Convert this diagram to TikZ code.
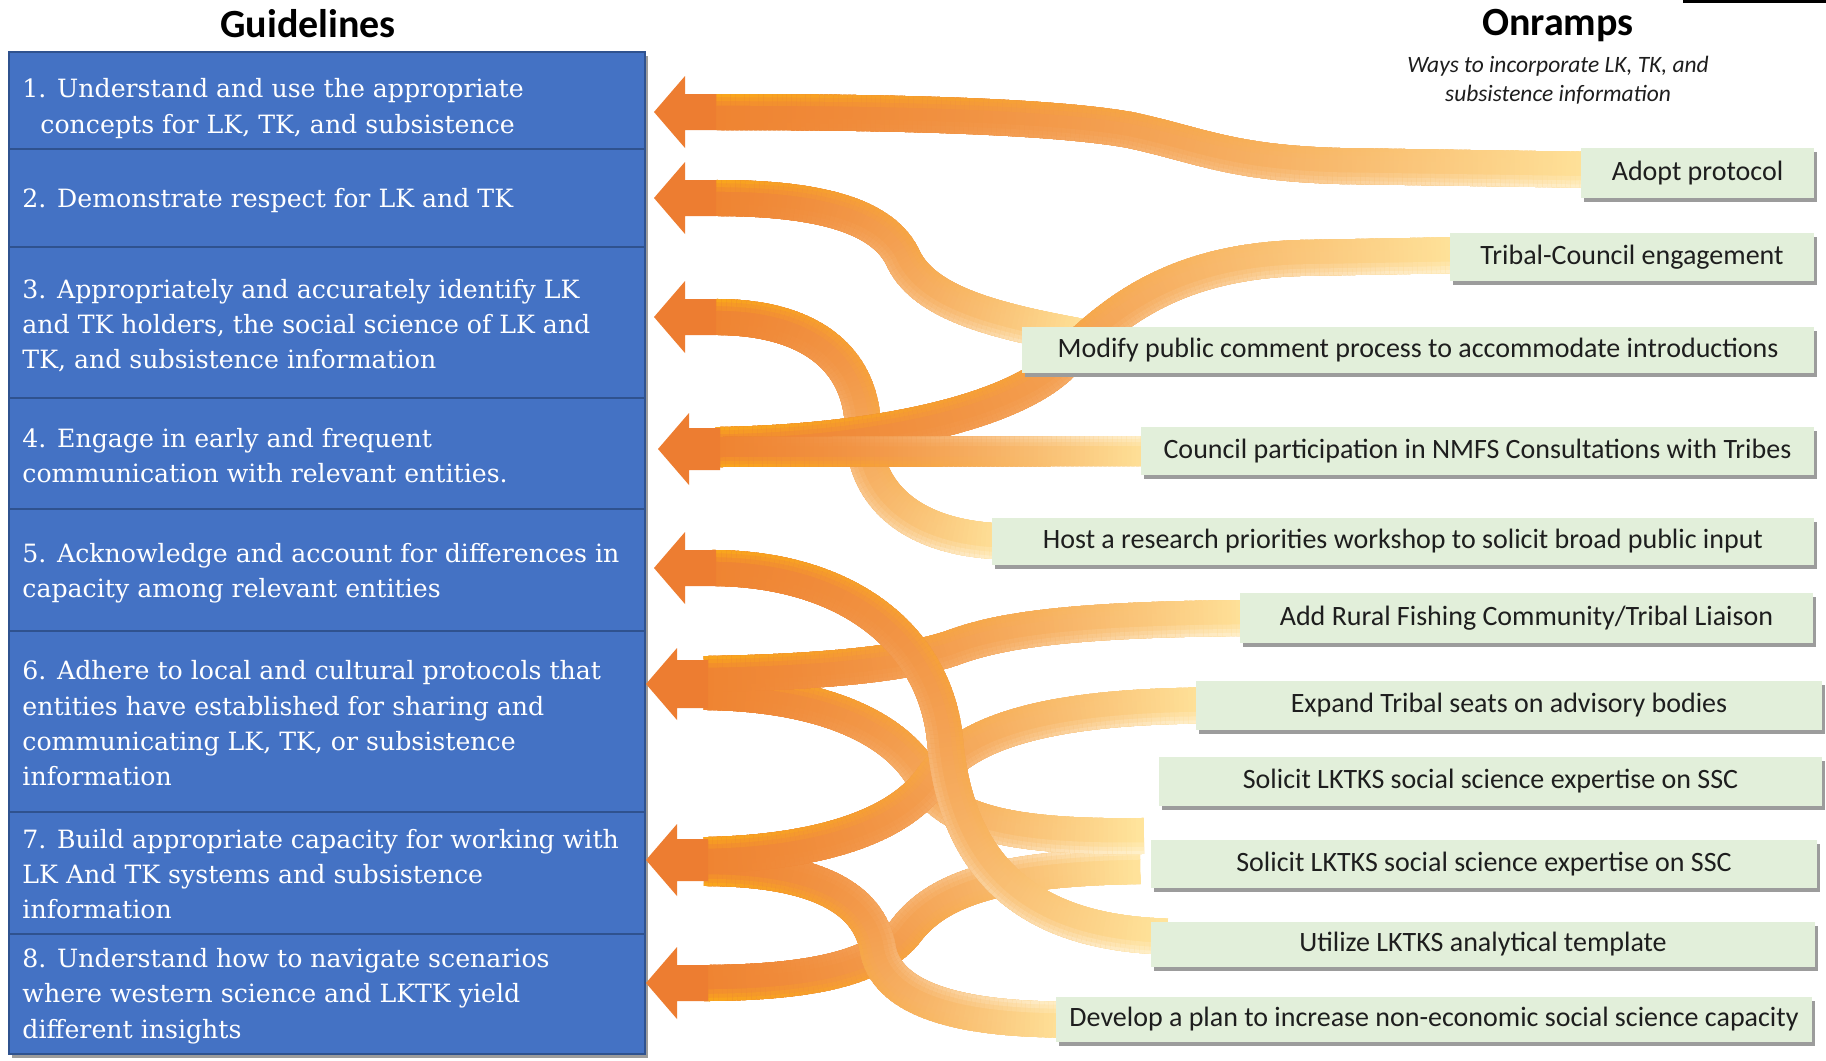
\documentclass[tikz,border=0pt]{standalone}
\usepackage{fontspec}
\setmainfont{DejaVu Serif}
\newfontfamily\calib{Carlito}
\usetikzlibrary{decorations.markings,calc}
\definecolor{aorange}{HTML}{ED7D31}
\definecolor{rorange}{HTML}{EF8432}
\definecolor{rlight}{HTML}{FFE49C}
\definecolor{rgold}{HTML}{FFB810}
\definecolor{gblue}{HTML}{4472C4}
\definecolor{gbord}{HTML}{2F528F}
\definecolor{ggreen}{HTML}{E2EFDA}
\definecolor{shadowgray}{HTML}{9C9C9C}
\definecolor{txtdark}{HTML}{1E1E1E}
% gradient ribbon: #1 half width (pt), #2 side of the gold edge (1 or -1), #3 path
\newcommand\ribbon[3]{%
  \path[decorate,decoration={markings,
    mark=between positions 0 and 1 step 3.5pt with {%
      \pgfmathsetmacro\rbf{\pgfkeysvalueof{/pgf/decoration/mark info/distance from start}/\pgfdecoratedpathlength}%
      \pgfmathsetmacro\rbp{min(100,max(0,100*(0.35*\rbf+0.65*\rbf*\rbf)))}%
      \pgfmathsetmacro\rbg{max(0,65*(1-\rbf)*(1-\rbf))}%
      \pgfmathsetmacro\rbw{max(0,min(45,55*\rbf*\rbf))}%
      \colorlet{rbbase}{rlight!\rbp!rorange}%
      \fill[rbbase] (-3pt,-#1) rectangle (3pt,#1);
      \foreach \k/\lo in {1/0.35,2/0.6,3/0.82}{%
        \pgfmathsetmacro\rbgk{\rbg*\k/3}%
        \pgfmathsetmacro\rbwk{\rbw*\k/3}%
        \fill[rgold!\rbgk!rbbase] (-3pt,#2*\lo*#1) rectangle (3pt,#2*#1);
        \fill[white!\rbwk!rbbase] (-3pt,-#2*\lo*#1) rectangle (3pt,-#2*#1);}%
    }}] #3;}
% block arrow head: #1 shaft end coordinate, #2 shaft half height (px)
\newcommand\arrowhead[2]{%
  \fill[aorange] ([shift={(0,-#2)}]#1) -- ([shift={(-31,-#2)}]#1) -- ([shift={(-31,-36)}]#1)
   -- ([shift={(-62,0)}]#1) -- ([shift={(-31,36)}]#1) -- ([shift={(-31,#2)}]#1)
   -- ([shift={(0,#2)}]#1) -- cycle;}
\begin{document}
\begin{tikzpicture}[x=0.75pt,y=-0.75pt,
  gbox/.style={rectangle, fill=gblue, draw=gbord, line width=1.2pt, inner sep=0pt,
     minimum width=636*0.75pt, minimum height=#1*0.75pt,
     preaction={fill=shadowgray, draw=none, transform canvas={shift={(3,4)}}}},
  gtext/.style={text=white, font=\fontsize{18.9pt}{26.5pt}\selectfont, align=left,
     anchor=west, inner sep=0pt},
  obox/.style 2 args={rectangle, fill=ggreen, inner sep=0pt, text=txtdark,
     font=\calib\fontsize{21pt}{25pt}\selectfont,
     minimum width=#1*0.75pt, minimum height=#2*0.75pt,
     preaction={fill=shadowgray, transform canvas={shift={(3,4)}}}},
  oplace/.style 2 args={rectangle, inner sep=0pt, minimum width=#1*0.75pt, minimum height=#2*0.75pt},
  title/.style={font=\calib\bfseries\fontsize{30pt}{36pt}\selectfont, text=black, inner sep=0pt}
]
\useasboundingbox (0,0) rectangle (1826,1060);
\fill[white] (0,0) rectangle (1826,1060);
\fill[black] (1683,0) rectangle (1826,3);

% titles
\node[title] (tg) at (308,24) {Guidelines};
\node[title] (to) at (1558,26) {Onramps};
\node[font=\calib\itshape\fontsize{17.6pt}{21.75pt}\selectfont, align=center, inner sep=0pt, text=txtdark]
  (ts) at (1558,80) {Ways to incorporate LK, TK, and\\subsistence information};

% guideline boxes
\node[gbox=97]  (g1) at (327,100.5) {};
\node[gbox=98]  (g2) at (327,198) {};
\node[gbox=151] (g3) at (327,322.5) {};
\node[gbox=111] (g4) at (327,453.5) {};
\node[gbox=122] (g5) at (327,570) {};
\node[gbox=181] (g6) at (327,721.5) {};
\node[gbox=122] (g7) at (327,873) {};
\node[gbox=120] (g8) at (327,994) {};

\node[gtext] (g1t) at ([shift={(14,8)}]g1.west) {1. Understand and use the appropriate\\\hspace*{13.5pt}concepts for LK, TK, and subsistence};
\node[gtext] (g2t) at ([shift={(14,3)}]g2.west) {2. Demonstrate respect for LK and TK};
\node[gtext] (g3t) at ([shift={(14,3)}]g3.west) {3. Appropriately and accurately identify LK\\and TK holders, the social science of LK and\\TK, and subsistence information};
\node[gtext] (g4t) at ([shift={(14,2)}]g4.west) {4. Engage in early and frequent\\communication with relevant entities.};
\node[gtext] (g5t) at ([shift={(14,3)}]g5.west) {5. Acknowledge and account for differences in\\capacity among relevant entities};
\node[gtext] (g6t) at ([shift={(14,2)}]g6.west) {6. Adhere to local and cultural protocols that\\entities have established for sharing and\\communicating LK, TK, or subsistence\\information};
\node[gtext] (g7t) at ([shift={(14,1)}]g7.west) {7. Build appropriate capacity for working with\\LK And TK systems and subsistence\\information};
\node[gtext] (g8t) at ([shift={(14,2)}]g8.west) {8. Understand how to navigate scenarios\\where western science and LKTK yield\\different insights};

% onramp box places (the boxes are drawn later, on top of the ribbons)
\node[oplace={233}{50}] (b1) at (1697.5,173) {};
\node[oplace={364}{48}] (b2) at (1632,257) {};
\node[oplace={792}{46}] (b3) at (1418,350) {};
\node[oplace={673}{48}] (b4) at (1477.5,451) {};
\node[oplace={822}{47}] (b5) at (1403,541.5) {};
\node[oplace={573}{50}] (b6) at (1526.5,618) {};
\node[oplace={626}{49}] (b7) at (1509,705.5) {};
\node[oplace={663}{49}] (b8) at (1490.5,781.5) {};
\node[oplace={666}{48}] (b9) at (1484,864) {};
\node[oplace={664}{45}] (b10) at (1483,944.5) {};
\node[oplace={756}{45}] (b11) at (1434,1019.5) {};

% arrow shaft ends
\coordinate (a1) at (716,112);
\coordinate (a2) at (716,198);
\coordinate (a3) at (716,317);
\coordinate (a4) at (720,449);
\coordinate (a5) at (716,568);
\coordinate (a6) at (708,684);
\coordinate (a7) at (708,860);
\coordinate (a8) at (708,983);

% ribbons
\ribbon{13.5pt}{1}{(a2) .. controls (830,198) and (885,220) .. (903,258) .. controls (925,305) and (1000,322) .. ([shift={(70,12)}]b3.north west)}
\ribbon{13.5pt}{1}{(a3) .. controls (805,317) and (862,355) .. (863,430) .. controls (864,505) and (925,541) .. ([shift={(18,0)}]b5.west)}
\ribbon{13.5pt}{1}{([shift={(0,-4)}]a4) .. controls (880,442) and (1010,412) .. (1060,365) .. controls (1110,315) and (1170,262) .. (1300,258) -- ([shift={(15,-2)}]b2.west)}
\ribbon{11.25pt}{-1}{([shift={(0,3)}]a4) -- ([shift={(15,0)}]b4.west)}
\ribbon{13.5pt}{1}{(a1) .. controls (850,112) and (1040,114) .. (1130,130) .. controls (1200,145) and (1230,163) .. (1340,166) -- ([shift={(20,-3)}]b1.west)}
\ribbon{13.5pt}{-1}{(a8) .. controls (830,982) and (880,962) .. (905,932) .. controls (935,892) and (990,868) .. ([shift={(-10,2)}]b9.west)}
\ribbon{13.5pt}{-1}{([shift={(0,8)}]a7) .. controls (820,869) and (870,900) .. (878,950) .. controls (888,1000) and (960,1020) .. ([shift={(15,0)}]b11.west)}
\ribbon{13.5pt}{1}{([shift={(0,8)}]a6) .. controls (830,694) and (900,732) .. (925,780) .. controls (945,818) and (1000,838) .. ([shift={(-10,-28)}]b9.west)}
\ribbon{13.5pt}{1}{([shift={(0,-5)}]a7) .. controls (830,852) and (900,822) .. (930,782) .. controls (960,738) and (1030,706) .. ([shift={(15,0)}]b7.west)}
\ribbon{13.5pt}{1}{([shift={(0,-10)}]a6) .. controls (820,672) and (905,664) .. (952,648) .. controls (995,632) and (1060,619) .. ([shift={(15,0)}]b6.west)}
\ribbon{13.5pt}{1}{(a5) .. controls (850,570) and (935,640) .. (945,740) .. controls (955,850) and (1010,932) .. ([shift={(15,-8)}]b10.west)}

% arrow heads
\arrowhead{a1}{18}
\arrowhead{a2}{18}
\arrowhead{a3}{18}
\arrowhead{a4}{21}
\arrowhead{a5}{18}
\arrowhead{a6}{24}
\arrowhead{a7}{21}
\arrowhead{a8}{18}

% onramp boxes drawn on top
\node[obox={233}{50}] (b1f) at (b1) {Adopt protocol};
\node[obox={364}{48}] (b2f) at (b2) {Tribal-Council engagement};
\node[obox={792}{46}] (b3f) at (b3) {Modify public comment process to accommodate introductions};
\node[obox={673}{48}] (b4f) at (b4) {Council participation in NMFS Consultations with Tribes};
\node[obox={822}{47}] (b5f) at (b5) {Host a research priorities workshop to solicit broad public input};
\node[obox={573}{50}] (b6f) at (b6) {Add Rural Fishing Community/Tribal Liaison};
\node[obox={626}{49}] (b7f) at (b7) {Expand Tribal seats on advisory bodies};
\node[obox={663}{49}] (b8f) at (b8) {Solicit LKTKS social science expertise on SSC};
\node[obox={666}{48}] (b9f) at (b9) {Solicit LKTKS social science expertise on SSC};
\node[obox={664}{45}] (b10f) at (b10) {Utilize LKTKS analytical template};
\node[obox={756}{45}] (b11f) at (b11) {Develop a plan to increase non-economic social science capacity};
\end{tikzpicture}
\end{document}
